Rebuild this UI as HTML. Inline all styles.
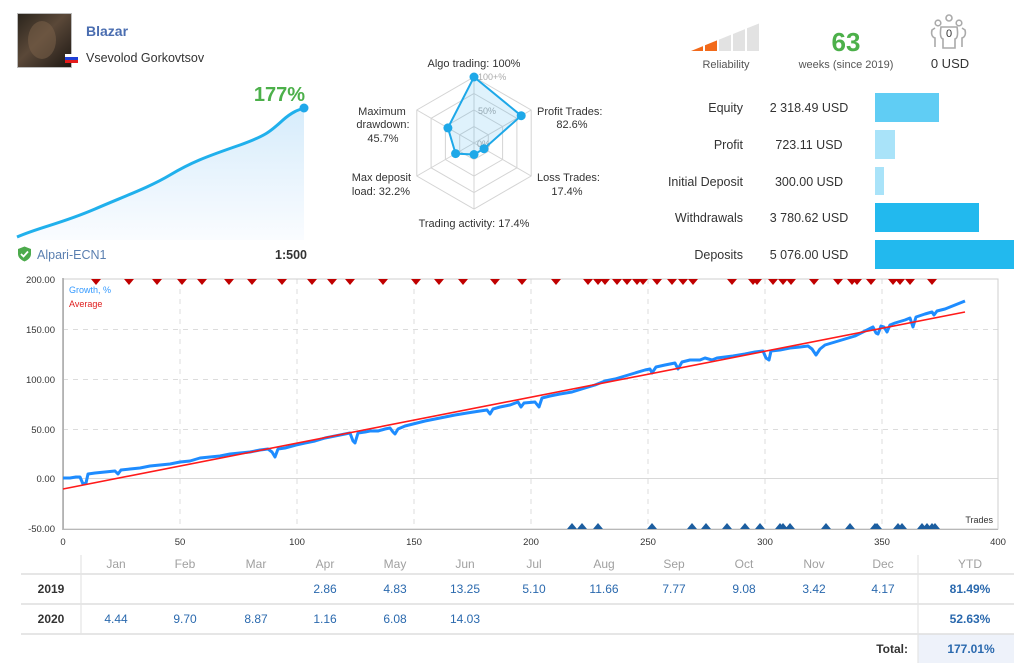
<!DOCTYPE html>
<html><head><meta charset="utf-8"><style>
html,body{margin:0;padding:0;background:#fff;width:1024px;height:663px;overflow:hidden}
svg{display:block}
text{font-family:"Liberation Sans",sans-serif}
</style></head><body>
<svg width="1024" height="663" viewBox="0 0 1024 663" xmlns="http://www.w3.org/2000/svg">
<defs>
<linearGradient id="face" x1="0" y1="0" x2="1" y2="1">
<stop offset="0" stop-color="#2a241c"/><stop offset="0.45" stop-color="#5a4838"/><stop offset="0.7" stop-color="#3e3228"/><stop offset="1" stop-color="#1e1812"/>
</linearGradient>
<linearGradient id="mini" x1="0" y1="0" x2="0" y2="1">
<stop offset="0" stop-color="#d6ecfb"/><stop offset="1" stop-color="#fafcff"/>
</linearGradient>
</defs>

<!-- Header -->
<rect x="17.5" y="13.5" width="54" height="54" fill="url(#face)" stroke="#bbb"/>
<ellipse cx="42" cy="40" rx="14" ry="19" fill="#7a6048" opacity="0.55"/>
<text x="86" y="36" font-size="14" font-weight="bold" fill="#4a6db0">Blazar</text>
<rect x="65" y="54" width="13" height="3" fill="#fff"/>
<rect x="65" y="57" width="13" height="3" fill="#1f3fd6"/>
<rect x="65" y="60" width="13" height="3" fill="#e41b1b"/>
<text x="86" y="62" font-size="12.5" fill="#333">Vsevolod Gorkovtsov</text>

<text x="305" y="101" font-size="20" font-weight="bold" fill="#4cb04a" text-anchor="end">177%</text>
<path d="M17,237 C40,227 60,224 95,209 C125,196 150,187 170,175 C190,163 205,157 240,145 C265,136 270,132 283,120 C292,112 298,110 304,108 L304,240 L17,240 Z" fill="url(#mini)"/>
<path d="M17,237 C40,227 60,224 95,209 C125,196 150,187 170,175 C190,163 205,157 240,145 C265,136 270,132 283,120 C292,112 298,110 304,108" fill="none" stroke="#20b0ec" stroke-width="3"/>
<circle cx="304" cy="108" r="4.5" fill="#20a8ea"/>

<path d="M18,249 L24.5,246.5 L31,249 L31,254 C31,258 27,260.5 24.5,261.5 C22,260.5 18,258 18,254 Z" fill="#4caa4c"/>
<path d="M21,254 L23.5,256.5 L28,251.5" fill="none" stroke="#fff" stroke-width="1.8"/>
<text x="37" y="259" font-size="12.5" fill="#5a7fb0">Alpari-ECN1</text>
<text x="307" y="259" font-size="12.5" font-weight="bold" fill="#333" text-anchor="end">1:500</text>

<!-- Radar -->
<g fill="none" stroke="#d4d4d4" stroke-width="1">
<polygon points="474,77 531.2,110 531.2,176 474,209 416.8,176 416.8,110"/>
<polygon points="474,93.5 516.9,118.3 516.9,167.8 474,192.5 431.1,167.8 431.1,118.3"/>
<polygon points="474,110 502.6,126.5 502.6,159.5 474,176 445.4,159.5 445.4,126.5"/>
<polygon points="474,126.5 488.3,134.8 488.3,151.3 474,159.5 459.7,151.3 459.7,134.8"/>
<line x1="474" y1="143" x2="474" y2="77"/><line x1="474" y1="143" x2="531.2" y2="110"/><line x1="474" y1="143" x2="531.2" y2="176"/>
<line x1="474" y1="143" x2="474" y2="209"/><line x1="474" y1="143" x2="416.8" y2="176"/><line x1="474" y1="143" x2="416.8" y2="110"/>
</g>
<text x="478" y="80" font-size="9" fill="#aaa">100+%</text>
<text x="478" y="114" font-size="9" fill="#aaa">50%</text>
<text x="477" y="147" font-size="9" fill="#aaa">0%</text>
<polygon points="474,77 521.2,115.7 484,148.7 474,154.5 455.6,153.6 447.9,127.9" fill="rgba(40,170,235,0.15)" stroke="#1ea8e8" stroke-width="2"/>
<g fill="#1ea8e8">
<circle cx="474" cy="77" r="4.5"/><circle cx="521.2" cy="115.7" r="4.5"/><circle cx="484" cy="148.7" r="4.5"/>
<circle cx="474" cy="154.5" r="4.5"/><circle cx="455.6" cy="153.6" r="4.5"/><circle cx="447.9" cy="127.9" r="4.5"/>
</g>
<g font-size="11" fill="#333">
<text x="474" y="67" text-anchor="middle">Algo trading: 100%</text>
<text x="537" y="115">Profit Trades:</text>
<text x="572" y="128" text-anchor="middle">82.6%</text>
<text x="537" y="181">Loss Trades:</text>
<text x="567" y="195" text-anchor="middle">17.4%</text>
<text x="474" y="227" text-anchor="middle">Trading activity: 17.4%</text>
<text x="411" y="181" text-anchor="end">Max deposit</text>
<text x="410" y="195" text-anchor="end">load: 32.2%</text>
<text x="382" y="115" text-anchor="middle">Maximum</text>
<text x="383" y="128" text-anchor="middle">drawdown:</text>
<text x="383" y="142" text-anchor="middle">45.7%</text>
</g>

<!-- Reliability -->
<polygon points="691,51 703,51 703,46.1 691,51" fill="#f26a1b"/>
<polygon points="705,51 717,51 717,40.4 705,45.3" fill="#f26a1b"/>
<polygon points="719,51 731,51 731,34.8 719,39.6" fill="#e2e2e2"/>
<polygon points="733,51 745,51 745,29.1 733,34" fill="#e2e2e2"/>
<polygon points="747,51 759,51 759,23.5 747,28.3" fill="#e2e2e2"/>
<text x="726" y="68" font-size="11" fill="#555" text-anchor="middle">Reliability</text>
<text x="846" y="51" font-size="26" font-weight="bold" fill="#4cb04a" text-anchor="middle">63</text>
<text x="846" y="68" font-size="11" fill="#555" text-anchor="middle">weeks (since 2019)</text>
<g fill="none" stroke="#aaa" stroke-width="1.6">
<circle cx="938" cy="23" r="2.8"/><circle cx="949" cy="18" r="3"/><circle cx="959" cy="23" r="2.8"/>
<path d="M935,47 L935,38 C932,37 931,34 932,30 L935,28"/>
<path d="M962,47 L962,38 C965,37 966,34 965,30 L962,28"/>
<path d="M943,48 L943,39 C940,38 940,33 941,27 L957,27 C958,33 958,38 955,39 L955,48 Z"/>
</g>
<text x="949" y="37" font-size="11" fill="#333" text-anchor="middle">0</text>
<text x="950" y="68" font-size="13" fill="#333" text-anchor="middle">0 USD</text>

<g font-size="12.5" fill="#333">
<text x="743" y="112" text-anchor="end">Equity</text>
<text x="809" y="112" text-anchor="middle">2 318.49 USD</text>
<text x="743" y="149" text-anchor="end">Profit</text>
<text x="809" y="149" text-anchor="middle">723.11 USD</text>
<text x="743" y="186" text-anchor="end">Initial Deposit</text>
<text x="809" y="186" text-anchor="middle">300.00 USD</text>
<text x="743" y="222" text-anchor="end">Withdrawals</text>
<text x="809" y="222" text-anchor="middle">3 780.62 USD</text>
<text x="743" y="259" text-anchor="end">Deposits</text>
<text x="809" y="259" text-anchor="middle">5 076.00 USD</text>
</g>
<rect x="875" y="93" width="64" height="29" fill="#60cdf4"/>
<rect x="875" y="130" width="20" height="29" fill="#a9e3f9"/>
<rect x="875" y="167" width="9" height="28" fill="#a9e3f9"/>
<rect x="875" y="203" width="104" height="29" fill="#22b9ee"/>
<rect x="875" y="240" width="139" height="29" fill="#22b9ee"/>

<!-- Main chart -->
<g stroke="#dcdcdc" stroke-width="1" stroke-dasharray="5,5">
<line x1="180" y1="279" x2="180" y2="529"/><line x1="297" y1="279" x2="297" y2="529"/>
<line x1="414" y1="279" x2="414" y2="529"/><line x1="531" y1="279" x2="531" y2="529"/>
<line x1="648" y1="279" x2="648" y2="529"/><line x1="765" y1="279" x2="765" y2="529"/>
<line x1="882" y1="279" x2="882" y2="529"/>
<line x1="63" y1="329.5" x2="998" y2="329.5"/><line x1="63" y1="379.5" x2="998" y2="379.5"/>
<line x1="63" y1="429.5" x2="998" y2="429.5"/>
</g>
<line x1="63" y1="478.5" x2="998" y2="478.5" stroke="#d8d8d8"/>
<rect x="63.5" y="279" width="934.5" height="250" fill="none" stroke="#cfcfcf"/>
<line x1="63" y1="278" x2="63" y2="530" stroke="#a8a8a8" stroke-width="1.5"/>
<line x1="63" y1="529.5" x2="998" y2="529.5" stroke="#b8b8b8"/>

<g font-size="9.5" fill="#333" text-anchor="end">
<text x="55" y="283">200.00</text><text x="55" y="333">150.00</text><text x="55" y="383">100.00</text>
<text x="55" y="433">50.00</text><text x="55" y="482">0.00</text><text x="55" y="532">-50.00</text>
</g>
<g font-size="9.5" fill="#333" text-anchor="middle">
<text x="63" y="545">0</text><text x="180" y="545">50</text><text x="297" y="545">100</text><text x="414" y="545">150</text>
<text x="531" y="545">200</text><text x="648" y="545">250</text><text x="765" y="545">300</text><text x="882" y="545">350</text><text x="998" y="545">400</text>
</g>
<text x="69" y="293" font-size="9" fill="#3399ff">Growth, %</text>
<text x="69" y="307" font-size="9" fill="#e02020">Average</text>
<text x="993" y="523" font-size="9" fill="#333" text-anchor="end">Trades</text>

<polyline fill="none" stroke="#1e8cff" stroke-width="3" stroke-linejoin="round" points="63,478 70,478 76,477 80,477 83,484 86,483 88,474 95,473 105,472 115,471 118,474 121,470 130,469 140,468 150,466 160,465 170,464 180,462 190,461 200,458 210,457 220,456 230,454 240,453 250,452 260,450 268,449 272,452 275,457 278,449 285,448 296,445 305,443 315,441 325,438 335,436 345,434 350,433 353,441 355,443 358,433 365,432 370,431 378,431 385,429 390,428 393,432 395,434 398,429 405,426 413,424 425,421 440,418 455,415 467,413 480,411 487,410 490,414 493,409 500,407 510,405 518,402 521,407 524,403 535,402 539,407 542,398 550,396 560,394 572,392 585,388 595,385 605,381 615,379 625,376 635,373 645,370 650,369 652,373 656,367 665,365 675,363 678,369 682,362 690,360 700,360 705,358 712,360 717,358 725,357 733,356 745,354 755,352 763,351 766,358 769,360 771,351 780,350 790,348 800,347 808,346 812,349 816,355 820,349 825,345 835,342 845,339 855,336 865,331 873,327 876,333 878,334 881,326 884,327 887,332 890,325 895,323 905,320 910,318 913,327 916,317 925,314 932,312 934,315 937,311 945,309 950,307 955,305 960,303 965,301"/>
<line x1="63" y1="489" x2="965" y2="312" stroke="#ff1a1a" stroke-width="1.6"/>

<g fill="#c00000">
<path d="M91,279h10l-5,6z"/><path d="M124,279h10l-5,6z"/><path d="M152,279h10l-5,6z"/><path d="M177,279h10l-5,6z"/>
<path d="M197,279h10l-5,6z"/><path d="M224,279h10l-5,6z"/><path d="M247,279h10l-5,6z"/><path d="M277,279h10l-5,6z"/>
<path d="M307,279h10l-5,6z"/><path d="M327,279h10l-5,6z"/><path d="M345,279h10l-5,6z"/><path d="M378,279h10l-5,6z"/>
<path d="M411,279h10l-5,6z"/><path d="M434,279h10l-5,6z"/><path d="M458,279h10l-5,6z"/><path d="M490,279h10l-5,6z"/>
<path d="M517,279h10l-5,6z"/><path d="M551,279h10l-5,6z"/><path d="M583,279h10l-5,6z"/><path d="M593,279h10l-5,6z"/>
<path d="M600,279h10l-5,6z"/><path d="M612,279h10l-5,6z"/><path d="M622,279h10l-5,6z"/><path d="M632,279h10l-5,6z"/>
<path d="M638,279h10l-5,6z"/><path d="M652,279h10l-5,6z"/><path d="M667,279h10l-5,6z"/><path d="M678,279h10l-5,6z"/>
<path d="M688,279h10l-5,6z"/><path d="M727,279h10l-5,6z"/><path d="M748,279h10l-5,6z"/><path d="M752,279h10l-5,6z"/>
<path d="M768,279h10l-5,6z"/><path d="M778,279h10l-5,6z"/><path d="M786,279h10l-5,6z"/><path d="M809,279h10l-5,6z"/>
<path d="M833,279h10l-5,6z"/><path d="M847,279h10l-5,6z"/><path d="M852,279h10l-5,6z"/><path d="M866,279h10l-5,6z"/>
<path d="M888,279h10l-5,6z"/><path d="M895,279h10l-5,6z"/><path d="M905,279h10l-5,6z"/><path d="M927,279h10l-5,6z"/>
</g>
<g fill="#1c5ea0">
<path d="M567,529h10l-5,-6z"/><path d="M577,529h10l-5,-6z"/><path d="M593,529h10l-5,-6z"/><path d="M647,529h10l-5,-6z"/>
<path d="M687,529h10l-5,-6z"/><path d="M701,529h10l-5,-6z"/><path d="M722,529h10l-5,-6z"/><path d="M740,529h10l-5,-6z"/>
<path d="M755,529h10l-5,-6z"/><path d="M775,529h10l-5,-6z"/><path d="M778,529h10l-5,-6z"/><path d="M785,529h10l-5,-6z"/>
<path d="M821,529h10l-5,-6z"/><path d="M845,529h10l-5,-6z"/><path d="M870,529h10l-5,-6z"/><path d="M872,529h10l-5,-6z"/>
<path d="M893,529h10l-5,-6z"/><path d="M897,529h10l-5,-6z"/><path d="M917,529h10l-5,-6z"/><path d="M922,529h10l-5,-6z"/>
<path d="M927,529h10l-5,-6z"/><path d="M930,529h10l-5,-6z"/>
</g>

<!-- Table -->
<rect x="918" y="634" width="96" height="29" fill="#eef2fa"/>
<g stroke="#dedede" stroke-width="1.5">
<line x1="21" y1="574" x2="1014" y2="574"/><line x1="21" y1="604" x2="1014" y2="604"/><line x1="21" y1="634" x2="1014" y2="634"/>
</g>
<g stroke="#e4e4e4" stroke-width="1.2">
<line x1="81" y1="555" x2="81" y2="634"/><line x1="918" y1="555" x2="918" y2="663"/>
</g>
<g font-size="12" fill="#a0a0a0" text-anchor="middle">
<text x="116" y="568">Jan</text><text x="185" y="568">Feb</text><text x="256" y="568">Mar</text><text x="325" y="568">Apr</text>
<text x="395" y="568">May</text><text x="465" y="568">Jun</text><text x="534" y="568">Jul</text><text x="604" y="568">Aug</text>
<text x="674" y="568">Sep</text><text x="744" y="568">Oct</text><text x="814" y="568">Nov</text><text x="883" y="568">Dec</text>
<text x="970" y="568">YTD</text>
</g>
<g font-size="12" font-weight="bold" fill="#333" text-anchor="middle">
<text x="51" y="593">2019</text><text x="51" y="623">2020</text>
</g>
<text x="908" y="653" font-size="12" font-weight="bold" fill="#333" text-anchor="end">Total:</text>
<g font-size="12" fill="#2a69ae" text-anchor="middle">
<text x="325" y="593">2.86</text><text x="395" y="593">4.83</text><text x="465" y="593">13.25</text><text x="534" y="593">5.10</text>
<text x="604" y="593">11.66</text><text x="674" y="593">7.77</text><text x="744" y="593">9.08</text><text x="814" y="593">3.42</text>
<text x="883" y="593">4.17</text>
<text x="116" y="623">4.44</text><text x="185" y="623">9.70</text><text x="256" y="623">8.87</text><text x="325" y="623">1.16</text>
<text x="395" y="623">6.08</text><text x="465" y="623">14.03</text>
</g>
<g font-size="12" font-weight="bold" fill="#2a69ae" text-anchor="middle">
<text x="970" y="593">81.49%</text><text x="970" y="623">52.63%</text><text x="971" y="653">177.01%</text>
</g>
</svg>
</body></html>
